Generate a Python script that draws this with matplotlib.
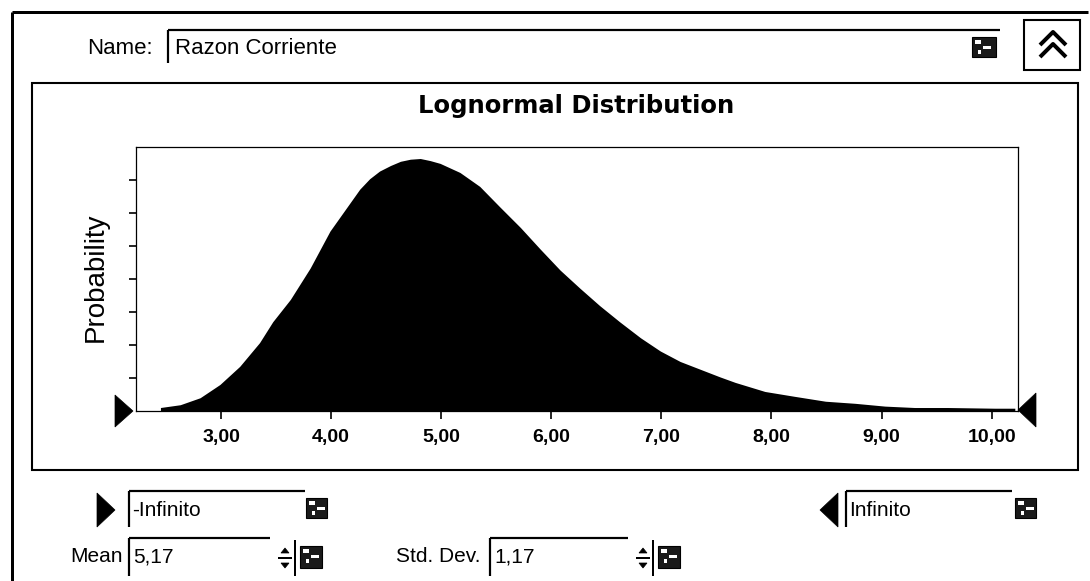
import numpy as np
import matplotlib
matplotlib.use("Agg")
import matplotlib.pyplot as plt
from matplotlib.patches import Rectangle, Polygon

# valores (x = razon corriente, y = probabilidad relativa)
x_vals = [2.45, 2.63, 2.81, 2.99, 3.17, 3.35, 3.47, 3.63, 3.81, 3.99, 4.17,
          4.26, 4.35, 4.44, 4.54, 4.63, 4.72, 4.81, 4.90, 4.99, 5.17, 5.35,
          5.53, 5.72, 5.90, 6.08, 6.26, 6.44, 6.62, 6.81, 6.99, 7.17, 7.35,
          7.53, 7.67, 7.94, 8.21, 8.49, 8.76, 9.03, 9.30, 9.60, 10.03, 10.21]
prob = [0.005, 0.009, 0.019, 0.038, 0.064, 0.098, 0.128, 0.160, 0.205, 0.258,
        0.298, 0.318, 0.333, 0.344, 0.352, 0.358, 0.361, 0.362, 0.359, 0.355,
        0.342, 0.322, 0.293, 0.263, 0.232, 0.202, 0.176, 0.151, 0.128, 0.105,
        0.086, 0.071, 0.060, 0.049, 0.041, 0.028, 0.021, 0.014, 0.011, 0.007,
        0.005, 0.005, 0.004, 0.004]
x_ticks = [3, 4, 5, 6, 7, 8, 9, 10]
x_labels = ["3,00", "4,00", "5,00", "6,00", "7,00", "8,00", "9,00", "10,00"]

title = "Lognormal Distribution"
name = "Razon Corriente"
lower = "-Infinito"
upper = "Infinito"
mean_txt = "5,17"
std_txt = "1,17"

W, H = 1090, 581
UI_FONT = "Liberation Sans"

fig = plt.figure(figsize=(W / 100, H / 100), dpi=100)

# ejes de la grafica (posicion en pixeles)
L, R, T, B = 136, 1018, 147, 411
ax = fig.add_axes([L / W, 1 - B / H, (R - L) / W, (B - T) / H], zorder=2)
ax.fill_between(x_vals, prob, 0, color="black", lw=0)
ax.set_xlim(2.228, 10.239)
ax.set_ylim(0, 0.3785)
ax.set_xticks(x_ticks)
ax.set_xticklabels(x_labels, fontfamily=UI_FONT, fontweight="bold", fontsize=14)
ax.set_yticks(np.arange(1, 8) * 0.0473)
ax.set_yticklabels([])
ax.tick_params(axis="x", direction="out", length=6, width=1.2, pad=7)
ax.tick_params(axis="y", direction="out", length=5, width=1.2)
for s in ax.spines.values():
    s.set_linewidth(0.9)

# capa para el dialogo, en pixeles
ui = fig.add_axes([0, 0, 1, 1], zorder=3)
ui.set_xlim(0, W)
ui.set_ylim(H, 0)
ui.axis("off")
ui.patch.set_alpha(0)


def line(xs, ys, lw=1.5):
    ui.plot(xs, ys, color="black", lw=lw * 0.72, solid_capstyle="butt")


def tri(pts):
    ui.add_patch(Polygon(pts, closed=True, fc="black", ec="black", lw=0.5))


def icon(x, y, w=22, h=20):
    ui.add_patch(Rectangle((x, y), w, h, fc="#1a1a1a", ec="black", lw=0.8))
    ui.add_patch(Rectangle((x + 3, y + 3), 6, 4, fc="white", ec="none"))
    ui.add_patch(Rectangle((x + 11, y + 9), 8, 3, fc="white", ec="none"))
    ui.add_patch(Rectangle((x + 6, y + 13), 3, 4, fc="white", ec="none"))


def spinner(x, y0, y1):
    mid = (y0 + y1) / 2
    line([x + 20, x + 20], [y0, y1], 2)
    line([x + 3, x + 17], [mid, mid], 2)
    tri([(x + 6, mid - 5), (x + 14, mid - 5), (x + 10, mid - 10)])
    tri([(x + 6, mid + 5), (x + 14, mid + 5), (x + 10, mid + 10)])


def editbox(x0, x1, y0, y1):
    line([x0, x1], [y0, y0], 2.2)
    line([x0, x0], [y0, y1], 2.2)


# marco exterior
line([12, 1088], [12, 12], 3)
line([12, 12], [12, H], 3)

# fila del nombre
ui.text(153, 48, "Name:", ha="right", va="center", fontsize=16, fontfamily=UI_FONT)
editbox(168, 1000, 30, 63)
ui.text(175, 48, name, ha="left", va="center", fontsize=16, fontfamily=UI_FONT)
icon(972, 37, 24, 20)
ui.add_patch(Rectangle((1024, 20), 56, 50, fc="white", ec="black", lw=1.5))
line([1040, 1053, 1066], [45, 32, 45], 4)
line([1040, 1053, 1066], [57, 44, 57], 4)

# panel de la grafica
ui.add_patch(Rectangle((32, 83), 1046, 387, fc="none", ec="black", lw=1.5))
ui.text(576, 106, title, ha="center", va="center", fontsize=17.5,
        fontweight="bold", fontfamily="DejaVu Sans")
ui.text(96, 277, "Probability", ha="center", va="center", rotation=90,
        fontsize=20, fontfamily=UI_FONT)
tri([(115, 395), (133, 411), (115, 427)])
tri([(1036, 393), (1018, 410), (1036, 427)])

# limites
tri([(97, 493), (115, 510), (97, 527)])
editbox(129, 305, 491, 527)
ui.text(132, 510, lower, ha="left", va="center", fontsize=15, fontfamily=UI_FONT)
icon(306, 498, 21, 20)

tri([(838, 493), (820, 510), (838, 527)])
editbox(846, 1012, 491, 527)
ui.text(849, 510, upper, ha="left", va="center", fontsize=15, fontfamily=UI_FONT)
icon(1015, 498, 21, 20)

# parametros
ui.text(123, 557, "Mean", ha="right", va="center", fontsize=15, fontfamily=UI_FONT)
editbox(129, 270, 538, 576)
ui.text(133, 557, mean_txt, ha="left", va="center", fontsize=15, fontfamily=UI_FONT)
spinner(275, 540, 576)
icon(300, 546, 22, 22)

ui.text(480, 557, "Std. Dev.", ha="right", va="center", fontsize=15, fontfamily=UI_FONT)
editbox(490, 628, 538, 576)
ui.text(494, 557, std_txt, ha="left", va="center", fontsize=15, fontfamily=UI_FONT)
spinner(633, 540, 576)
icon(658, 546, 22, 22)

fig.savefig("out.png", dpi=100, facecolor="white")
